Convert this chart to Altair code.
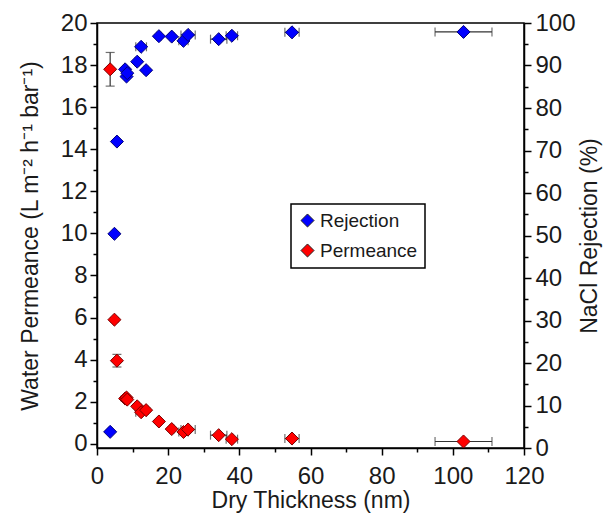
import altair as alt
import pandas as pd

# ---- data ----
thickness = [3.7, 4.9, 5.6, 7.9, 8.3, 8.5, 11.3, 12.4, 13.8, 17.4, 21.0, 24.3, 25.6, 34.2, 37.9, 54.8, 103.0]
thickness_err = [0.0, 0.0, 0.0, 0.5, 0.5, 0.5, 0.6, 1.5, 0.6, 0.6, 0.6, 1.3, 2.0, 2.3, 1.6, 2.0, 8.0]
permeance = [17.8, 5.9, 3.95, 2.15, 2.2, 2.1, 1.78, 1.5, 1.6, 1.06, 0.7, 0.56, 0.68, 0.41, 0.22, 0.25, 0.11]
permeance_err = [0.8, 0.1, 0.3, 0.12, 0.1, 0.1, 0.1, 0.1, 0.1, 0.08, 0.08, 0.05, 0.05, 0.05, 0.05, 0.05, 0.05]
rejection = [3.8, 50.4, 72.1, 89.1, 87.4, 88.2, 90.9, 94.4, 88.9, 96.9, 96.8, 95.8, 97.2, 96.2, 97.0, 97.8, 97.9]
rejection_err = [0.3, 0.3, 0.3, 0.3, 0.3, 0.3, 0.3, 0.3, 0.3, 0.3, 0.3, 0.3, 0.3, 0.3, 0.3, 0.3, 0.3]
series_names = ["Rejection", "Permeance"]
series_fill = ["#0000ff", "#ff0000"]
series_stroke = ["#00007a", "#7a0000"]

df = pd.DataFrame({
    "t": thickness, "terr": thickness_err,
    "perm": permeance, "perr": permeance_err,
    "rej": rejection, "rerr": rejection_err,
})
df["t_lo"] = df["t"] - df["terr"]
df["t_hi"] = df["t"] + df["terr"]
df["p_lo"] = df["perm"] - df["perr"]
df["p_hi"] = df["perm"] + df["perr"]
df["r_lo"] = df["rej"] - df["rerr"]
df["r_hi"] = df["rej"] + df["rerr"]

FONT = "Liberation Sans"
TXT = "#1a1a1a"
ERR = "#333333"

x_scale = alt.Scale(domain=[0, 120], nice=False, zero=False)
yl_scale = alt.Scale(domain=[-0.2, 20], nice=False, zero=False)
yr_scale = alt.Scale(domain=[0, 100], nice=False, zero=False)
color_scale = alt.Scale(domain=series_names, range=series_fill)

common_axis = dict(
    grid=False, domainColor="black", domainWidth=1.5, tickColor="black", tickWidth=1.5,
    labelFontSize=24, titleFontSize=23, labelColor=TXT, titleColor=TXT,
    labelFont=FONT, titleFont=FONT, titleFontWeight="normal",
    labelOverlap=False, labelFlush=False, format="d",
)

x_axis = alt.Axis(
    title="Dry Thickness (nm)", orient="bottom",
    values=list(range(0, 121, 10)),
    labelExpr="datum.value % 20 === 0 ? datum.label : ''",
    tickSize={"condition": {"test": "datum.value % 20 === 0", "value": 7}, "value": 4},
    labelPadding=9, titleY=52, titleBaseline="middle",
    **common_axis,
)
yl_axis = alt.Axis(
    title="Water Permeance (L m⁻² h⁻¹ bar⁻¹)", orient="left",
    values=list(range(0, 21, 1)),
    labelExpr="datum.value % 2 === 0 ? datum.label : ''",
    tickSize={"condition": {"test": "datum.value % 2 === 0", "value": 7}, "value": 4},
    labelPadding=3, titleX=-67, titleBaseline="middle",
    **common_axis,
)
yr_axis = alt.Axis(
    title="NaCl Rejection (%)", orient="right",
    values=list(range(0, 101, 5)),
    labelExpr="datum.value % 10 === 0 ? datum.label : ''",
    tickSize={"condition": {"test": "datum.value % 10 === 0", "value": 7}, "value": 4},
    labelPadding=4, titleX=65, titleAngle=270, titleBaseline="middle",
    **common_axis,
)

legend = alt.Legend(
    title=None, orient="none", legendX=194, legendY=181,
    symbolType="diamond", symbolSize=170, symbolStrokeColor="#222222",
    symbolStrokeWidth=1, labelFontSize=19, labelFont=FONT, labelColor=TXT,
    labelOffset=3, rowPadding=10, padding=7, strokeColor="black",
)


def group(yf, lo, hi, yscale, yaxis, name, stroke):
    base = alt.Chart(df)
    X = lambda f: alt.X(f"{f}:Q", scale=x_scale, axis=x_axis)
    Y = lambda f: alt.Y(f"{f}:Q", scale=yscale, axis=yaxis)
    xerr = base.transform_filter("datum.terr > 0").mark_rule(color=ERR, strokeWidth=1.2).encode(
        x=X("t_lo"), x2="t_hi:Q", y=Y(yf))
    xcap1 = base.transform_filter("datum.terr > 0").mark_tick(
        orient="vertical", color=ERR, size=9, thickness=1.2).encode(x=X("t_lo"), y=Y(yf))
    xcap2 = base.transform_filter("datum.terr > 0").mark_tick(
        orient="vertical", color=ERR, size=9, thickness=1.2).encode(x=X("t_hi"), y=Y(yf))
    yerr = base.mark_rule(color=ERR, strokeWidth=1.2).encode(
        x=X("t"), y=Y(lo), y2=f"{hi}:Q")
    ycap1 = base.mark_tick(orient="horizontal", color=ERR, size=9, thickness=1.2).encode(
        x=X("t"), y=Y(lo))
    ycap2 = base.mark_tick(orient="horizontal", color=ERR, size=9, thickness=1.2).encode(
        x=X("t"), y=Y(hi))
    pts = base.transform_calculate(series=f"'{name}'").mark_point(
        shape="diamond", filled=True, size=170, opacity=1,
        stroke=stroke, strokeWidth=1).encode(
        x=X("t"), y=Y(yf),
        color=alt.Color("series:N", scale=color_scale, legend=legend),
    )
    return alt.layer(xerr, xcap1, xcap2, yerr, ycap1, ycap2, pts)


left = group("perm", "p_lo", "p_hi", yl_scale, yl_axis, series_names[1], series_stroke[1])
right = group("rej", "r_lo", "r_hi", yr_scale, yr_axis, series_names[0], series_stroke[0])

chart = alt.layer(left, right).resolve_scale(y="independent").properties(
    width=427, height=425,
    autosize=alt.AutoSizeParams(type="none"),
    padding={"left": 89, "top": 15, "right": 83, "bottom": 67},
    background="white",
).configure_view(stroke="black", strokeWidth=1.5).configure_legend(strokeWidth=1.5)

chart.save("out.html", embed_options={"renderer": "svg", "actions": False})
